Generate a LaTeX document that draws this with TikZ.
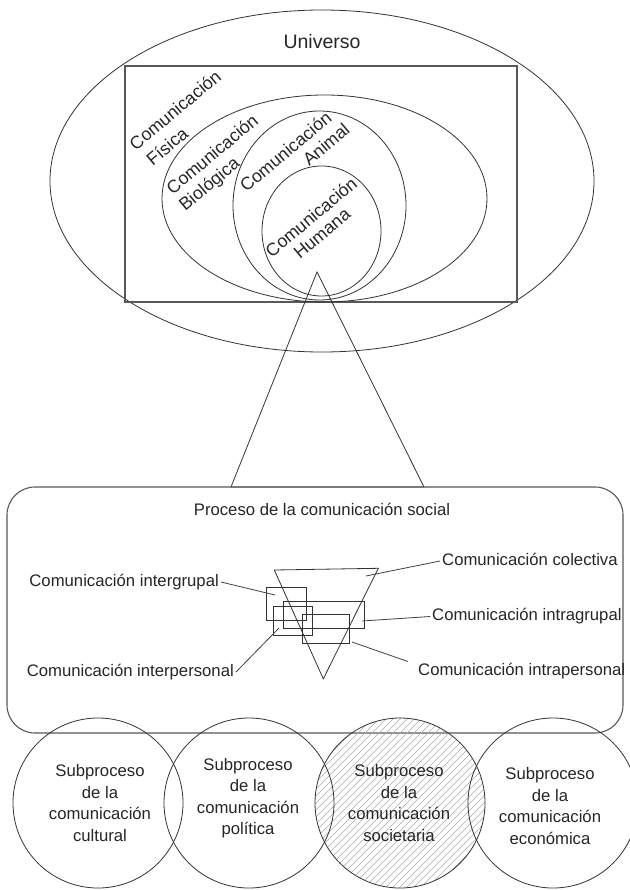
\documentclass[tikz,border=0pt]{standalone}
\usepackage{fontspec}
\setmainfont{Liberation Sans}
\begin{document}
\begin{tikzpicture}[x=1pt,y=-1pt]
\tikzset{
  ln/.style={draw=black!80, line width=0.8pt},
  frame/.style={draw=black!65, line width=1.1pt},
  lead/.style={draw=black!75, line width=0.8pt},
  hatch/.style={draw=black!32, line width=0.45pt},
  txt/.style={font=\fontsize{16.7}{21.5}\selectfont, text=black!85},
  lbl/.style={txt, inner sep=2pt, text height=12pt, text depth=3.5pt},
  rlbl/.style={txt, font=\fontsize{17.8}{21.5}\selectfont, inner sep=0pt, rotate=40},
  sub/.style={txt, align=center, inner sep=0pt}
}
\useasboundingbox (0,0) rectangle (629,890);
\fill[white] (0,0) rectangle (629,890);

% nested sets of communication
\draw[ln] (322,181) ellipse[x radius=272pt, y radius=171pt];
\draw[frame] (125,66) rectangle (517,302);
\draw[ln] (324.5,198.5) ellipse[x radius=162.5pt, y radius=103.5pt];
\draw[ln] (319.5,205.5) ellipse[x radius=86.5pt, y radius=94.5pt];
\draw[ln] (321.5,231) ellipse[x radius=59.5pt, y radius=65pt];

\node[txt, font=\fontsize{19.5}{23}\selectfont] (univ) at (322,42) {Universo};
\node[rlbl] (f1) at (175,110) {Comunicación};
\node[rlbl] (f2) at (167,146) {Física};
\node[rlbl] (b1) at (212,154) {Comunicación};
\node[rlbl] (b2) at (210,185) {Biológica};
\node[rlbl] (a1) at (285.5,151.5) {Comunicación};
\node[rlbl] (a2) at (326,144.5) {Animal};
\node[rlbl] (h1) at (311,217) {Comunicación};
\node[rlbl] (h2) at (322,233.5) {Humana};

% zoom cone down to the social process
\draw[ln] (317,272) -- (231,487) -- (424,487) -- cycle;

% social communication process
\draw[frame, rounded corners=28pt] (7,487) rectangle (623,733);
\node[lbl] (proc) at (322,511.5) {Proceso de la comunicación social};

\draw[ln] (274.3,570) -- (378.3,568.3) -- (323.3,678.8) -- cycle;
\draw[ln] (266,587.3) rectangle (306,620.7);
\draw[ln] (283.3,601) rectangle (364.3,628.3);
\draw[ln] (273.3,606.7) rectangle (312.3,635.7);
\draw[ln] (302.3,614.3) rectangle (349,643);

\coordinate (pcol) at (366,576);
\coordinate (pintg) at (275,595);
\coordinate (pintra) at (362,621);
\coordinate (pinterp) at (279,628);
\coordinate (ptrap) at (352,642);

\node[lbl, anchor=west] (lcol) at (440,561) {Comunicación colectiva};
\node[lbl, anchor=east] (lintg) at (221,582) {Comunicación intergrupal};
\node[lbl, anchor=west] (lintra) at (430,616.5) {Comunicación intragrupal};
\node[lbl, anchor=east] (linterp) at (236,672) {Comunicación interpersonal};
\node[lbl, anchor=west] (ltrap) at (416,671.5) {Comunicación intrapersonal};

\draw[lead] (pcol) -- (lcol.west);
\draw[lead] (lintg.east) -- (pintg);
\draw[lead] (pintra) -- (lintra.west);
\draw[lead] (pinterp) -- (linterp.east);
\draw[lead] (ptrap) -- ([xshift=-8pt]ltrap.north west);

% subprocesses
\begin{scope}
  \clip (400,803) circle[radius=85pt];
  \foreach \d in {-189,-182,...,189}
    \draw[hatch] (300+\d,903) -- (500+\d,703);
\end{scope}
\draw[ln] (98,803) circle[radius=85pt];
\draw[ln] (249,803) circle[radius=85pt];
\draw[ln] (400,803) circle[radius=85pt];
\draw[ln] (553,803) circle[radius=85pt];

\node[sub] (s1) at (100,803) {Subproceso\\de la\\comunicación\\cultural};
\node[sub] (s2) at (248,798) {Subproceso\\de la\\comunicación\\política};
\node[sub] (s3) at (399,803) {Subproceso\\de la\\comunicación\\societaria};
\node[sub] (s4) at (550,806) {Subproceso\\de la\\comunicación\\económica};
\end{tikzpicture}
\end{document}
